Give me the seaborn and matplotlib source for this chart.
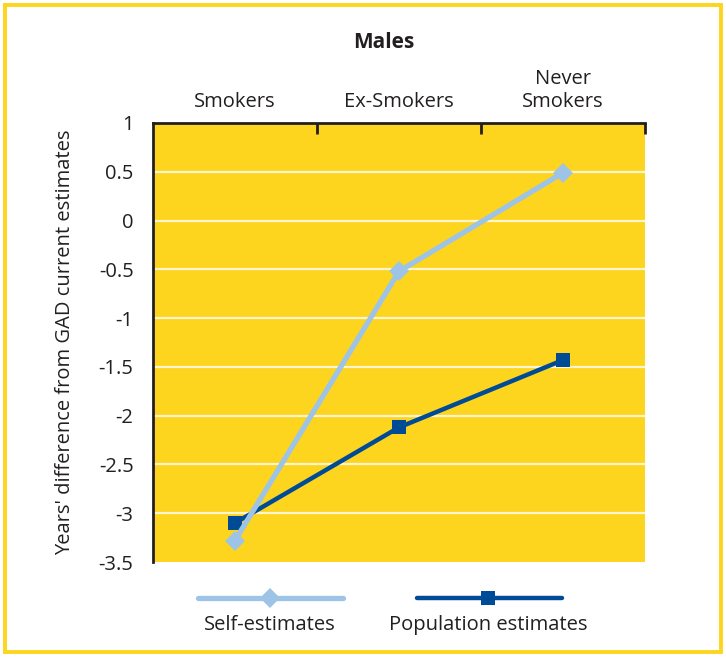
import matplotlib
matplotlib.use("Agg")
import matplotlib.pyplot as plt
from matplotlib.lines import Line2D
from matplotlib.patches import Rectangle
import seaborn as sns
import pandas as pd

# Data
categories = ["Smokers", "Ex-Smokers", "Never\nSmokers"]
self_estimates = [-3.28, -0.52, 0.49]
population_estimates = [-3.10, -2.12, -1.43]
series_names = ["Self-estimates", "Population estimates"]
y_ticks = [1, 0.5, 0, -0.5, -1, -1.5, -2, -2.5, -3, -3.5]

YELLOW = "#FDD51F"
LIGHT_BLUE = "#9DC3E6"
DARK_BLUE = "#004B96"
INK = "#231F20"
FS = 14.5

sns.set_theme(style="white")
plt.rcParams["font.family"] = ["Open Sans", "DejaVu Sans"]

W, H = 726, 657
fig = plt.figure(figsize=(W / 100, H / 100), dpi=100)
fig.patch.set_facecolor("white")

# outer frame
fig.add_artist(Rectangle((5 / W, 5 / H), (W - 10) / W, (H - 10) / H,
                         transform=fig.transFigure, fill=False,
                         edgecolor=YELLOW, linewidth=2.8))

ax = fig.add_axes([153 / W, 1 - 562 / H, 492 / W, 439 / H])
ax.set_facecolor(YELLOW)

x_idx = list(range(len(categories)))
df_pop = pd.DataFrame({"x": x_idx, "y": population_estimates})
df_self = pd.DataFrame({"x": x_idx, "y": self_estimates})

sns.lineplot(data=df_pop, x="x", y="y", ax=ax, color=DARK_BLUE, linewidth=3.2,
             marker="s", markersize=10, markeredgewidth=0, zorder=3)
sns.lineplot(data=df_self, x="x", y="y", ax=ax, color=LIGHT_BLUE, linewidth=3.8,
             marker="D", markersize=10.5, markeredgewidth=0, zorder=4)

ax.set_xlim(-0.5, len(categories) - 0.5)
ax.set_ylim(-3.5, 1)

# y axis
ax.set_yticks(y_ticks)
ax.set_yticklabels([f"{v:g}" for v in y_ticks])
ax.tick_params(axis="y", length=0, pad=14, labelsize=FS, labelcolor=INK)
ax.set_yticks([1], minor=True)
ax.tick_params(axis="y", which="minor", length=6, width=2, color=INK, direction="out")
for v in y_ticks[1:-1]:
    ax.axhline(v, color="#FFF6D0", linewidth=1.6, zorder=1)

# x axis on top
ax.xaxis.tick_top()
ax.set_xticks(x_idx)
ax.set_xticklabels(categories, linespacing=1.2)
ax.tick_params(axis="x", which="major", length=0, pad=8, labelsize=FS,
               labelcolor=INK, top=True, bottom=False, labeltop=True, labelbottom=False)
ax.set_xticks([0.5, 1.5, 2.5], minor=True)
ax.tick_params(axis="x", which="minor", length=8, width=2, color=INK, direction="in",
               top=True, bottom=False)

ax.set_xlabel("")
ax.set_ylabel("Years' difference from GAD current estimates", fontsize=FS,
              color=INK, labelpad=17)

for side in ["right", "bottom"]:
    ax.spines[side].set_visible(False)
for side in ["left", "top"]:
    ax.spines[side].set_color(INK)
    ax.spines[side].set_linewidth(2)

fig.text(384 / W, 1 - 42 / H, "Males", ha="center", va="center",
         fontsize=15, fontweight="bold", color=INK)

# legend
def legend_item(x0, x1, xm, color, lw, marker, ms, label):
    y = 1 - 598 / H
    fig.add_artist(Line2D([x0 / W, x1 / W], [y, y], transform=fig.transFigure,
                          color=color, linewidth=lw))
    fig.add_artist(Line2D([xm / W], [y], transform=fig.transFigure, color=color,
                          marker=marker, markersize=ms, markeredgewidth=0,
                          linestyle="none"))
    fig.text(xm / W, 1 - 625 / H, label, ha="center", va="center",
             fontsize=FS, color=INK)

legend_item(198, 343, 270, LIGHT_BLUE, 3.8, "D", 10.5, series_names[0])
legend_item(417, 562, 488, DARK_BLUE, 3.2, "s", 10, series_names[1])

fig.savefig("out.png", dpi=100, facecolor=fig.get_facecolor())
